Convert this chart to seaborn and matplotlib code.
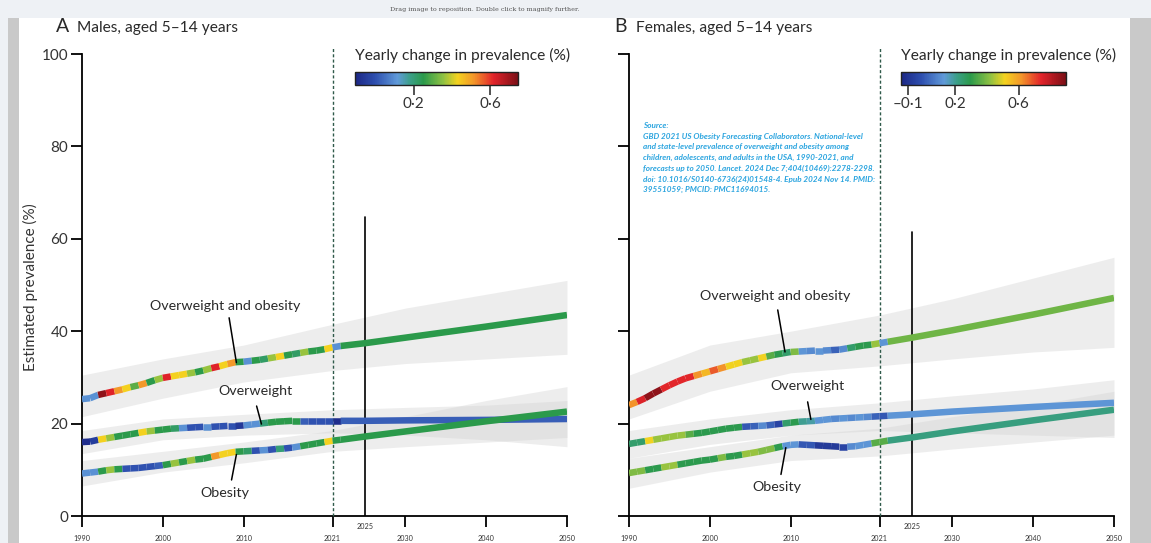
import numpy as np
import pandas as pd
import matplotlib
matplotlib.use("Agg")
import matplotlib.pyplot as plt
import seaborn as sns
from matplotlib.collections import LineCollection
from matplotlib.colors import LinearSegmentedColormap, Normalize
from matplotlib.patches import Rectangle
import matplotlib.transforms as mtrans

# ---------------- data ----------------
years_hist = list(range(1990, 2022))
years_fc = [2021, 2022, 2025, 2030, 2040, 2050]

# Males, aged 5-14 (prevalence %)
m_owob = [25.3, 25.5, 26.2, 26.6, 27.0, 27.4, 27.9, 28.3, 28.8, 29.4, 29.9, 30.2, 30.5, 30.8, 31.1, 31.5,
          32.0, 32.4, 32.9, 33.3, 33.4, 33.6, 33.8, 34.1, 34.4, 34.7, 35.0, 35.3, 35.6, 35.8, 36.1, 36.5]
m_ow = [16.0, 16.1, 16.5, 16.8, 17.1, 17.4, 17.7, 18.0, 18.3, 18.5, 18.7, 18.9, 19.0, 19.1, 19.2, 19.3,
        19.3, 19.4, 19.5, 19.5, 19.6, 19.8, 20.0, 20.2, 20.4, 20.5, 20.6, 20.6, 20.6, 20.6, 20.6, 20.6]
m_ob = [9.2, 9.4, 9.6, 9.9, 10.1, 10.2, 10.3, 10.4, 10.6, 10.8, 11.0, 11.3, 11.6, 11.9, 12.2, 12.4,
        12.8, 13.2, 13.6, 13.9, 14.0, 14.1, 14.2, 14.3, 14.5, 14.6, 14.8, 15.1, 15.4, 15.7, 16.0, 16.3]
m_owob_fc = [36.5, 36.8, 37.4, 38.6, 41.0, 43.5]
m_ow_fc = [20.6, 20.6, 20.6, 20.7, 20.8, 21.0]
m_ob_fc = [16.3, 16.5, 17.2, 18.3, 20.5, 22.6]

# Females, aged 5-14
f_owob = [24.0, 24.7, 25.5, 26.5, 27.4, 28.3, 29.1, 29.8, 30.3, 30.8, 31.3, 31.8, 32.3, 32.8, 33.3, 33.7,
          34.1, 34.5, 34.9, 35.2, 35.5, 35.6, 35.7, 35.8, 35.8, 35.9, 36.0, 36.3, 36.6, 36.9, 37.1, 37.4]
f_ow = [15.6, 15.9, 16.2, 16.5, 16.8, 17.1, 17.4, 17.6, 17.8, 18.0, 18.3, 18.6, 18.9, 19.1, 19.3, 19.4,
        19.5, 19.6, 19.8, 20.0, 20.2, 20.4, 20.5, 20.6, 20.8, 21.0, 21.1, 21.2, 21.3, 21.4, 21.5, 21.6]
f_ob = [9.3, 9.6, 9.9, 10.2, 10.5, 10.8, 11.1, 11.4, 11.7, 12.0, 12.2, 12.5, 12.8, 13.0, 13.3, 13.6,
        13.9, 14.3, 14.7, 15.1, 15.4, 15.5, 15.4, 15.3, 15.2, 15.1, 15.0, 15.0, 15.1, 15.4, 15.7, 16.0]
f_owob_fc = [37.4, 37.7, 38.6, 40.2, 43.6, 47.2]
f_ow_fc = [21.6, 21.7, 22.0, 22.6, 23.6, 24.5]
f_ob_fc = [16.0, 16.3, 17.0, 18.3, 20.7, 23.0]

# Yearly change in prevalence (%) per yearly interval (colour of each segment)
m_owob_chg = [0.10, 0.10, 0.72, 0.62, 0.51, 0.43, 0.30, 0.51, 0.25, 0.36, 0.62, 0.43, 0.43, 0.36, 0.25, 0.36,
              0.62, 0.43, 0.51, 0.25, 0.10, 0.25, 0.22, 0.36, 0.43, 0.25, 0.22, 0.36, 0.25, 0.25, 0.43]
m_ow_chg = [-0.09, -0.05, 0.43, 0.36, 0.25, 0.25, 0.25, 0.43, 0.36, 0.25, 0.25, 0.22, 0.10, 0.00, 0.00, 0.10,
            0.00, 0.00, 0.00, -0.06, 0.10, 0.10, 0.20, 0.25, 0.25, 0.25, 0.25, 0.02, 0.00, 0.00, 0.00]
m_ob_chg = [0.10, 0.10, 0.25, 0.36, 0.25, 0.00, 0.00, 0.00, 0.00, 0.02, 0.25, 0.36, 0.25, 0.36, 0.25, 0.25,
            0.51, 0.43, 0.43, 0.25, 0.22, 0.00, 0.10, 0.00, 0.20, 0.00, 0.10, 0.25, 0.25, 0.25, 0.43]
m_fc_chg = {"owob": [0.10, 0.25, 0.25, 0.25, 0.25], "ow": [-0.09, 0.02, 0.02, 0.02, 0.02],
            "ob": [0.25, 0.25, 0.25, 0.25, 0.25]}

f_owob_chg = [0.62, 0.75, 0.87, 0.87, 0.74, 0.74, 0.74, 0.74, 0.62, 0.56, 0.68, 0.62, 0.51, 0.51, 0.43, 0.43,
              0.51, 0.35, 0.29, 0.25, 0.40, 0.12, 0.10, 0.12, 0.10, 0.02, 0.10, 0.25, 0.29, 0.29, 0.43]
f_ow_chg = [0.25, 0.25, 0.51, 0.43, 0.43, 0.43, 0.43, 0.35, 0.29, 0.29, 0.29, 0.29, 0.29, 0.29, 0.00, 0.02,
            0.10, 0.02, -0.05, 0.25, 0.29, 0.20, 0.18, 0.12, 0.12, 0.10, 0.12, 0.10, 0.12, 0.10, 0.02]
f_ob_chg = [0.40, 0.40, 0.29, 0.29, 0.43, 0.43, 0.29, 0.29, 0.29, 0.29, 0.29, 0.40, 0.29, 0.29, 0.43, 0.43,
            0.40, 0.40, 0.29, 0.12, 0.12, 0.00, 0.00, -0.08, -0.08, -0.08, -0.05, 0.10, 0.12, 0.12, 0.35]
f_fc_chg = {"owob": [0.12, 0.38, 0.38, 0.38, 0.38], "ow": [0.00, 0.12, 0.12, 0.12, 0.12],
            "ob": [0.35, 0.22, 0.22, 0.22, 0.22]}

# Uncertainty intervals (lower, upper)
band_years = [1990, 2000, 2010, 2021, 2030, 2040, 2050]
m_owob_lo = [21.5, 25.5, 29.0, 31.5, 33.0, 34.0, 35.0]
m_owob_hi = [30.5, 34.0, 37.0, 41.5, 45.0, 48.0, 51.0]
m_ow_lo = [13.5, 16.5, 17.5, 18.0, 17.5, 16.5, 15.0]
m_ow_hi = [18.5, 21.0, 22.0, 23.0, 23.5, 24.0, 25.0]
m_ob_lo = [6.5, 9.5, 11.5, 14.0, 15.0, 16.0, 17.0]
m_ob_hi = [12.0, 14.0, 16.0, 18.5, 21.5, 25.0, 28.0]
f_owob_lo = [21.0, 27.0, 31.0, 32.5, 34.0, 35.5, 36.5]
f_owob_hi = [30.5, 37.0, 40.0, 43.5, 47.0, 51.5, 56.0]
f_ow_lo = [12.5, 15.5, 17.5, 18.5, 18.0, 17.5, 17.0]
f_ow_hi = [18.5, 21.0, 23.0, 24.5, 26.0, 27.5, 29.5]
f_ob_lo = [6.0, 9.5, 12.0, 13.0, 14.5, 16.0, 17.5]
f_ob_hi = [12.5, 15.0, 17.5, 19.0, 21.5, 24.0, 27.0]

x_ticks = [1990, 2000, 2010, 2021, 2025, 2030, 2040, 2050]
x_tick_labels = ["1990", "2000", "2010", "2021", "2025", "2030", "2040", "2050"]
y_ticks = [0, 20, 40, 60, 80, 100]
y_tick_labels = ["0", "20", "40", "60", "80", "100"]
cb_ticks_m = [0.2, 0.6]
cb_labels_m = ["0·2", "0·6"]
cb_ticks_f = [-0.1, 0.2, 0.6]
cb_labels_f = ["–0·1", "0·2", "0·6"]
cb_range_m = (-0.107, 0.745)
cb_range_f = (-0.144, 0.90)
solid_top = {"m": 64.7, "f": 61.5}

# ---------------- style ----------------
sns.set_theme(style="white")
plt.rcParams["font.family"] = ["Lato", "DejaVu Sans"]

W, H = 1151, 543
fig = plt.figure(figsize=(W / 100, H / 100), dpi=100, facecolor="#eef1f5")

def fx(px):
    return px / W

def fy(py):
    return 1 - py / H

# viewer frame
fig.patches.append(Rectangle((fx(19), 0), fx(1130) - fx(19), fy(18), transform=fig.transFigure,
                             facecolor="white", edgecolor="none", zorder=-10))
fig.patches.append(Rectangle((fx(8), 0), fx(11), fy(18), transform=fig.transFigure,
                             facecolor="#c9c9c9", edgecolor="none", zorder=-10))
fig.patches.append(Rectangle((fx(1130), 0), fx(21), fy(18), transform=fig.transFigure,
                             facecolor="#c9c9c9", edgecolor="none", zorder=-10))
fig.text(fx(485), fy(9), "Drag image to reposition. Double click to magnify further.",
         fontsize=4.6, family="DejaVu Serif", color="#555555", ha="center", va="center")

colors = ["#1c2785", "#2d4eae", "#609ad9", "#3a9f86", "#2b9a4b", "#8ec143", "#f4d21f",
          "#f3962a", "#e2232a", "#7c0f16"]
pos = [0.0, 0.12, 0.26, 0.34, 0.42, 0.54, 0.63, 0.73, 0.85, 1.0]
cmap = LinearSegmentedColormap.from_list("chg", list(zip(pos, colors)))

LW = 4.7
BAND = dict(color="#d3d3d3", alpha=0.4, lw=0, zorder=1)
TXT = "#2a2a2a"


def draw_series(ax, yrs, vals, chg, norm):
    pts = np.column_stack([yrs, vals])
    segs = np.stack([pts[:-1], pts[1:]], axis=1)
    lc = LineCollection(segs, colors=cmap(norm(np.array(chg))), linewidths=LW,
                        capstyle="butt", zorder=5)
    ax.add_collection(lc)


def panel(ax, series, bands, fc_chg, norm, top, annots):
    for lo, hi in bands:
        ax.fill_between(band_years, lo, hi, **BAND)
    ax.plot([2021, 2021], [0, 101.5], ls=(0, (2.2, 1.6)), color="#2f5a4a", lw=1.0, zorder=3,
            clip_on=False)
    ax.plot([2025, 2025], [0, top], color="black", lw=1.2, zorder=3)
    for key, (hist, fc, chg) in series.items():
        draw_series(ax, years_hist, hist, chg, norm)
        draw_series(ax, years_fc[:2], fc[:2], fc_chg[key][:1], norm)
        df = pd.DataFrame({"year": years_fc[1:], "val": fc[1:]})
        sns.lineplot(data=df, x="year", y="val", ax=ax, color=cmap(norm(fc_chg[key][1])),
                     lw=LW, solid_capstyle="butt", zorder=5)
    for txt, tx, ty, p0, p1 in annots:
        ax.text(tx, ty, txt, ha="center", va="center", fontsize=10.3, color=TXT, zorder=6)
        ax.plot([p0[0], p1[0]], [p0[1], p1[1]], color="black", lw=1.1, zorder=6)
    ax.set_xlim(1990, 2050)
    ax.set_ylim(0, 100)
    ax.set_xlabel("")
    ax.set_ylabel("")
    ax.set_xticks(x_ticks)
    ax.set_xticklabels(x_tick_labels)
    ax.set_yticks(y_ticks)
    sns.despine(ax=ax)
    for s in ["left", "bottom"]:
        ax.spines[s].set_linewidth(1.3)
        ax.spines[s].set_color("black")
    ax.tick_params(axis="x", direction="out", length=8, width=1.3, color="black",
                   labelsize=5.2, labelcolor="#333333", pad=6, bottom=True)
    ax.tick_params(axis="y", direction="out", length=8, width=1.3, color="black",
                   labelsize=11, labelcolor="#333333", pad=2, left=True)
    ax.patch.set_alpha(0)
    for t, v in zip(ax.xaxis.get_major_ticks(), x_ticks):
        if v == 2025:
            t.tick1line.set_visible(False)
            t.label1.set_transform(t.label1.get_transform() +
                                   mtrans.ScaledTranslation(0, 9 / 72, fig.dpi_scale_trans))


axA = fig.add_axes([fx(82), fy(516), fx(567) - fx(82), fy(54) - fy(516)])
axB = fig.add_axes([fx(629), fy(516), fx(1114) - fx(629), fy(54) - fy(516)])

normA = Normalize(*cb_range_m)
normB = Normalize(*cb_range_f)

panel(axA,
      {"owob": (m_owob, m_owob_fc, m_owob_chg), "ow": (m_ow, m_ow_fc, m_ow_chg),
       "ob": (m_ob, m_ob_fc, m_ob_chg)},
      [(m_owob_lo, m_owob_hi), (m_ow_lo, m_ow_hi), (m_ob_lo, m_ob_hi)],
      m_fc_chg, normA, solid_top["m"],
      [("Overweight and obesity", 2007.7, 45.5, (2008.2, 42.9), (2009.1, 33.2)),
       ("Overweight", 2011.5, 27.0, (2011.6, 23.8), (2012.2, 19.9)),
       ("Obesity", 2007.7, 5.0, (2009.1, 13.3), (2008.5, 7.8))])
axA.set_yticklabels(y_tick_labels)

panel(axB,
      {"owob": (f_owob, f_owob_fc, f_owob_chg), "ow": (f_ow, f_ow_fc, f_ow_chg),
       "ob": (f_ob, f_ob_fc, f_ob_chg)},
      [(f_owob_lo, f_owob_hi), (f_ow_lo, f_ow_hi), (f_ob_lo, f_ob_hi)],
      f_fc_chg, normB, solid_top["f"],
      [("Overweight and obesity", 2008.1, 47.6, (2008.4, 44.6), (2009.3, 35.5)),
       ("Overweight", 2012.1, 28.1, (2012.1, 24.7), (2012.5, 20.9)),
       ("Obesity", 2008.3, 6.3, (2009.4, 14.8), (2008.8, 9.0))])
axB.set_yticklabels([])

fig.text(fx(30), fy(287), "Estimated prevalence (%)", rotation=90, ha="center", va="center",
         fontsize=11, color="#333333")

# panel titles
fig.text(fx(56), fy(27), "A", fontsize=14, color=TXT, ha="left", va="center")
fig.text(fx(77), fy(28), "Males, aged 5–14 years", fontsize=11.2, color=TXT, ha="left", va="center")
fig.text(fx(614), fy(27), "B", fontsize=14, color=TXT, ha="left", va="center")
fig.text(fx(636), fy(28), "Females, aged 5–14 years", fontsize=11.2, color=TXT, ha="left",
         va="center")

# colour bars
for (x0, x1), norm, ticks, labels in [((355, 518), normA, cb_ticks_m, cb_labels_m),
                                       ((901, 1066), normB, cb_ticks_f, cb_labels_f)]:
    cax = fig.add_axes([fx(x0), fy(85), fx(x1) - fx(x0), fy(72) - fy(85)])
    sm = plt.cm.ScalarMappable(norm=norm, cmap=cmap)
    cb = fig.colorbar(sm, cax=cax, orientation="horizontal")
    cb.set_ticks(ticks)
    cb.set_ticklabels(labels)
    cb.outline.set_linewidth(1.0)
    cb.outline.set_edgecolor("#222222")
    cax.tick_params(direction="out", length=7, width=1.1, color="#222222", labelsize=11,
                    labelcolor="#333333", pad=2)
    fig.text(fx(x0), fy(55), "Yearly change in prevalence (%)", fontsize=11.2, color=TXT,
             ha="left", va="center")

source = ("Source:\n"
          "GBD 2021 US Obesity Forecasting Collaborators. National-level\n"
          "and state-level prevalence of overweight and obesity among\n"
          "children, adolescents, and adults in the USA, 1990-2021, and\n"
          "forecasts up to 2050. Lancet. 2024 Dec 7;404(10469):2278-2298.\n"
          "doi: 10.1016/S0140-6736(24)01548-4. Epub 2024 Nov 14. PMID:\n"
          "39551059; PMCID: PMC11694015.")
fig.text(fx(643), fy(122), source, fontsize=5.9, color="#2aa4df", fontstyle="italic",
         fontweight="bold", ha="left", va="top", linespacing=1.6)

fig.savefig("out.png", dpi=100, facecolor=fig.get_facecolor())
